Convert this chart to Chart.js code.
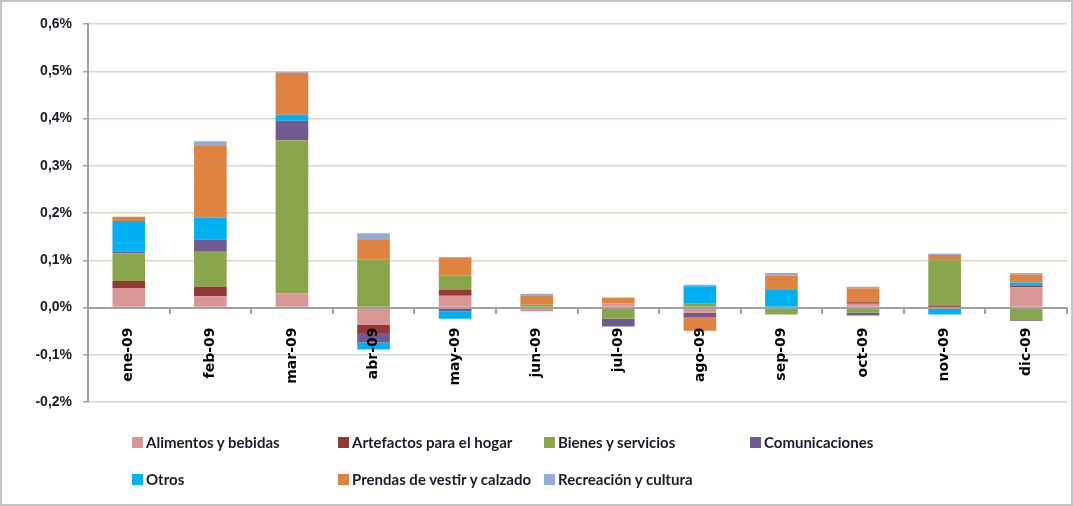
<!DOCTYPE html>
<html lang="es">
<head>
  <meta charset="UTF-8" />
  <title>Incidencia por grupo 2009</title>
  <script src="https://cdn.jsdelivr.net/npm/chart.js"></script>
  <style>
    html, body { margin: 0; padding: 0; background: #fff; }
    #wrap {
      position: relative;
      width: 1073px;
      height: 506px;
      box-sizing: border-box;
      border: 2px solid #c4c4c4;
      overflow: hidden;
    }
    #chart { position: absolute; left: -2px; top: -2px; }
    #legend {
      position: absolute;
      left: 130px;
      top: 430px;
      display: grid;
      grid-template-columns: repeat(4, 206px);
      row-gap: 17px;
      font-family: Lato, 'Open Sans', sans-serif;
      font-weight: bold;
      font-size: 15px;
      color: #1b1b2a;
    }
    .item { display: flex; align-items: center; height: 20px; }
    .box { width: 11px; height: 11px; margin-right: 3px; }
  </style>
</head>
<body>
  <div id="wrap">
    <canvas id="chart" width="1073" height="506"></canvas>
    <div id="legend"></div>
  </div>

  <script>
    const months = ["ene-09", "feb-09", "mar-09", "abr-09", "may-09", "jun-09",
                    "jul-09", "ago-09", "sep-09", "oct-09", "nov-09", "dic-09"];

    const yTickLabels = ["-0,2%", "-0,1%", "0,0%", "0,1%", "0,2%", "0,3%", "0,4%", "0,5%", "0,6%"];

    // contribuciones en puntos porcentuales
    const alimentos   = [0.040, 0.024, 0.030, -0.037, 0.025, -0.008, 0.009, -0.011, 0.000, 0.008, 0.001, 0.043];
    const artefactos  = [0.016, 0.020, 0.000, -0.017, 0.012, 0.000, 0.000, 0.000, 0.000, 0.003, 0.003, 0.003];
    const bienes      = [0.059, 0.074, 0.324, 0.101, 0.030, 0.006, -0.024, 0.008, -0.015, -0.011, 0.096, -0.025];
    const comunic     = [0.003, 0.026, 0.041, -0.020, -0.008, 0.000, -0.016, -0.009, 0.000, -0.006, 0.000, -0.003];
    const otros       = [0.065, 0.046, 0.013, -0.015, -0.016, 0.000, 0.000, 0.037, 0.037, 0.000, -0.015, 0.007];
    const prendas     = [0.009, 0.152, 0.089, 0.042, 0.039, 0.020, 0.011, -0.029, 0.030, 0.030, 0.011, 0.017];
    const recreacion  = [-0.003, 0.010, 0.002, 0.014, 0.001, 0.003, 0.001, 0.003, 0.006, 0.003, 0.003, 0.003];

    const seriesNames = ["Alimentos y bebidas", "Artefactos para el hogar", "Bienes y servicios",
                         "Comunicaciones", "Otros", "Prendas de vestir y calzado", "Recreación y cultura"];
    const seriesData = [alimentos, artefactos, bienes, comunic, otros, prendas, recreacion];
    const colors = ["#d99694", "#953735", "#8aa64c", "#725991", "#00b0f0", "#de8440", "#95aad5"];

    const datasets = seriesNames.map((name, i) => ({
      label: name,
      data: seriesData[i],
      backgroundColor: colors[i],
      borderWidth: 0,
      categoryPercentage: 1,
      barPercentage: 0.4
    }));

    new Chart(document.getElementById("chart"), {
      type: "bar",
      data: { labels: months, datasets: datasets },
      options: {
        responsive: false,
        animation: false,
        layout: { padding: { left: 0, right: 6, top: 24, bottom: 104 } },
        plugins: {
          legend: { display: false },
          tooltip: { enabled: false }
        },
        scales: {
          x: {
            stacked: true,
            position: { y: 0 },
            // eje cero y etiquetas por encima de las barras
            border: { color: "#a0a0a0", width: 2, z: 1 },
            grid: {
              drawOnChartArea: false,
              drawTicks: true,
              tickLength: 5,
              tickColor: "#a0a0a0",
              lineWidth: 2,
              z: 1
            },
            ticks: {
              z: 1,
              autoSkip: false,
              minRotation: 90,
              maxRotation: 90,
              padding: 15,
              color: "#000",
              font: { family: "'DejaVu Sans'", weight: "bold", size: 14 }
            }
          },
          y: {
            stacked: true,
            min: -0.2,
            max: 0.6,
            afterFit: (s) => { s.width = 88; },
            border: { color: "#a0a0a0", width: 2 },
            grid: {
              color: "#dcd7c4",
              lineWidth: 1.5,
              tickColor: "#a0a0a0",
              tickLength: 5
            },
            ticks: {
              stepSize: 0.1,
              padding: 11,
              color: "#1b1b2a",
              font: { family: "'Liberation Sans'", weight: "bold", size: 14 },
              callback: (v, i) => yTickLabels[i]
            }
          }
        }
      }
    });

    const legend = document.getElementById("legend");
    seriesNames.forEach((name, i) => {
      const item = document.createElement("div");
      item.className = "item";
      item.innerHTML = `<span class="box" style="background:${colors[i]}"></span>${name}`;
      legend.appendChild(item);
    });
  </script>
</body>
</html>
